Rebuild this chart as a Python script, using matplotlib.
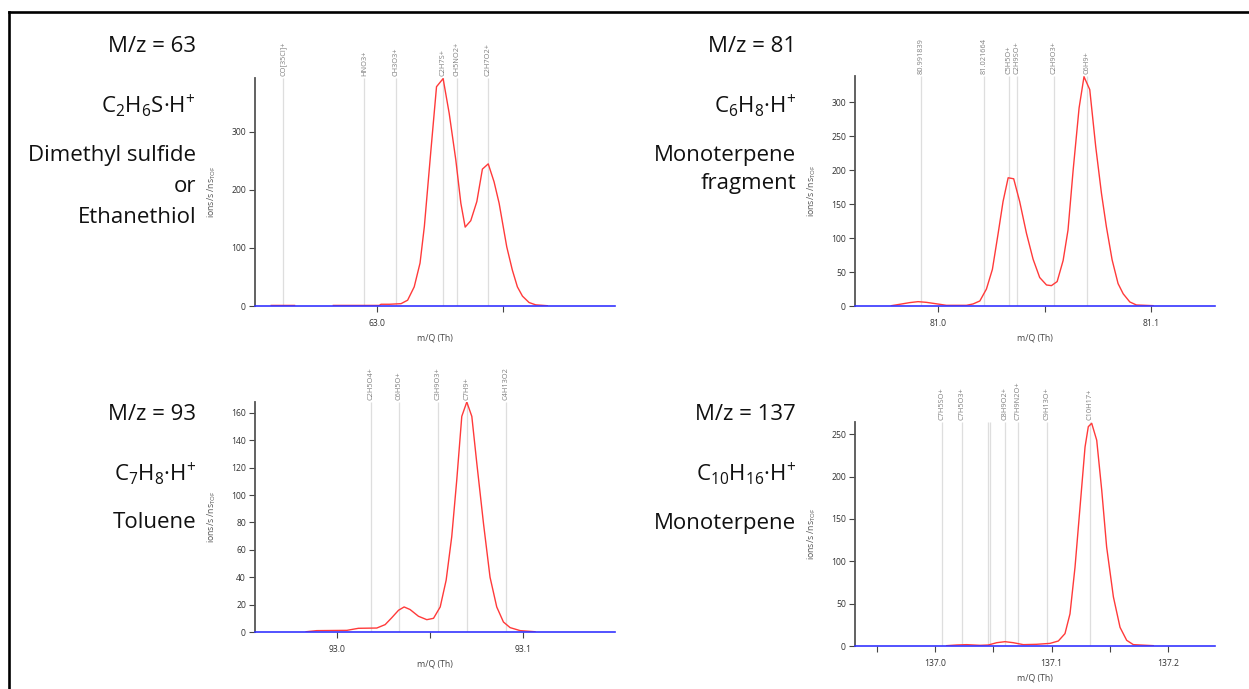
import numpy as np
import matplotlib.pyplot as plt
from matplotlib.lines import Line2D

plt.rcParams['font.family'] = ['Open Sans', 'DejaVu Sans']
plt.rcParams['mathtext.fontset'] = 'custom'
plt.rcParams['mathtext.rm'] = 'Open Sans'
plt.rcParams['mathtext.it'] = 'Open Sans:italic'

# ---- m/z 63 ----
mz63_x = [62.9584, 62.9630, 62.9676, np.nan, 62.9829, 63.0010, 63.0017, 63.0050, 63.0096,
          63.0122, 63.0148, 63.0171, 63.0188, 63.0214, 63.0236, 63.0262, 63.0286,
          63.0312, 63.0332, 63.0349, 63.0371, 63.0395, 63.0417, 63.0440, 63.0463,
          63.0483, 63.0513, 63.0535, 63.0555, 63.0575, 63.0601, 63.0627, 63.0673]
mz63_y = [1, 1, 1, np.nan, 1, 1, 3, 3, 4,
          10, 33, 74, 137, 269, 378, 392, 332,
          252, 177, 136, 147, 180, 236, 245, 214,
          177, 102, 62, 33, 17, 6, 2, 0.5]
mz63_peaks = [62.9632, 62.9951, 63.0077, 63.0263, 63.0315, 63.0441]
mz63_names = ['CO[35Cl]+', 'HNO3+', 'CH3O3+', 'C2H7S+', 'CH5NO2+', 'C2H7O2+']

# ---- m/z 81 ----
mz81_x = [80.9781, 80.9820, 80.9867, 80.9906, 80.9945, 81.0008, 81.0039, 81.0133,
          81.0164, 81.0196, 81.0227, 81.0255, 81.0282, 81.0305, 81.0329, 81.0355,
          81.0383, 81.0415, 81.0446, 81.0477, 81.0509, 81.0532, 81.0559, 81.0587,
          81.0610, 81.0634, 81.0662, 81.0685, 81.0712, 81.0740, 81.0767, 81.0790,
          81.0817, 81.0845, 81.0869, 81.0900, 81.0931, 81.1009]
mz81_y = [0.5, 2.5, 5, 6.4, 5.4, 2.5, 1, 1,
          3, 7.4, 25, 54, 107, 154, 189, 187.5,
          154, 107, 69, 42, 31, 30, 36, 67,
          112, 200, 292, 338, 319, 235, 166, 117,
          68, 33, 18, 6, 1.5, 0.5]
mz81_peaks = [80.991839, 81.021664, 81.0335, 81.0369, 81.0546, 81.0699]
mz81_names = ['80.991839', '81.021664', 'C5H5O+', 'C2H9SO+', 'C2H9O3+', 'C6H9+']

# ---- m/z 93 ----
mz93_x = [92.9835, 92.9892, 93.0054, 93.0116, 93.0215, 93.0260, 93.0296, 93.0332,
          93.0362, 93.0394, 93.0439, 93.0484, 93.0520, 93.0556, 93.0588, 93.0618,
          93.0645, 93.0672, 93.0699, 93.0726, 93.0753, 93.0789, 93.0824, 93.0860,
          93.0896, 93.0932, 93.0986, 93.1066]
mz93_y = [0.2, 1, 1.2, 2.7, 2.9, 5.4, 10.5, 15.9,
          18.3, 16.4, 11.5, 9, 10, 18.3, 37.9, 69.6,
          111, 157.5, 168, 157.5, 123, 79, 40, 18.3,
          7.3, 3.2, 1, 0.2]
mz93_peaks = [93.0182, 93.0335, 93.0546, 93.0699, 93.0910]
mz93_names = ['C2H5O4+', 'C6H5O+', 'C3H9O3+', 'C7H9+', 'C4H13O2']

# ---- m/z 137 ----
mz137_x = [137.0100, 137.0186, 137.0271, 137.0386, 137.0457, 137.0529, 137.0600,
           137.0671, 137.0757, 137.0871, 137.0986, 137.1057, 137.1114, 137.1157,
           137.1200, 137.1243, 137.1286, 137.1314, 137.1343, 137.1386, 137.1429,
           137.1471, 137.1529, 137.1586, 137.1643, 137.1700, 137.1871]
mz137_y = [0.4, 1.2, 1.6, 0.8, 1.2, 3.9, 5.1,
           3.9, 1.6, 2, 3.1, 5.9, 14.6, 38,
           93, 164, 235, 259, 263, 243, 184,
           117, 58, 22, 6.7, 1.6, 0.4]
mz137_peaks = [137.0056, 137.0233, 137.0452, 137.0474, 137.0597, 137.0709, 137.0961, 137.1325]
mz137_names = ['C7H5SO+', 'C7H5O3+', '', '', 'C8H9O2+', 'C7H9N2O+', 'C9H13O+', 'C10H17+']

# side annotations: (mass label, formula, compound lines)
titles = ['M/z = 63', 'M/z = 81', 'M/z = 93', 'M/z = 137']
formulas = [r'C$_2$H$_6$S·H$^{+}$', r'C$_6$H$_8$·H$^{+}$',
            r'C$_7$H$_8$·H$^{+}$', r'C$_{10}$H$_{16}$·H$^{+}$']
compounds = [['Dimethyl sulfide', 'or', 'Ethanethiol'],
             ['Monoterpene', 'fragment'],
             ['Toluene'],
             ['Monoterpene']]

W, H = 1249, 689
fig = plt.figure(figsize=(W / 100, H / 100), dpi=100)


def px_axes(left, top, right, bottom):
    return fig.add_axes([left / W, 1 - bottom / H, (right - left) / W, (bottom - top) / H])


def draw_panel(ax, x, y, peaks, names, xlim, ytop, yticks, xticks):
    ax.vlines(peaks, 0, ytop, color='#dedede', lw=0.9, zorder=1)
    for p, n in zip(peaks, names):
        if n:
            ax.annotate(n, (p, ytop), xytext=(0, 1.5), textcoords='offset points',
                        rotation=90, ha='center', va='bottom', fontsize=5.3,
                        color='#808080', annotation_clip=False)
    ax.plot(x, y, color='#ff3a3a', lw=1.0, zorder=3)
    ax.set_xlim(*xlim)
    ax.set_ylim(0, ytop)
    ax.set_yticks(yticks)
    ax.set_xticks(xticks)
    ax.set_xticklabels(['%.1f' % t if abs(round(t * 10) - t * 10) < 1e-6 else '' for t in xticks])
    for s in ['top', 'right']:
        ax.spines[s].set_visible(False)
    ax.spines['left'].set_color('#555555')
    ax.spines['left'].set_linewidth(1.3)
    ax.spines['bottom'].set_color('#3535ff')
    ax.spines['bottom'].set_linewidth(1.2)
    ax.spines['bottom'].set_zorder(4)
    ax.tick_params(axis='both', direction='out', length=4, width=0.8, color='#444444',
                   labelsize=6.2, labelcolor='#333333')
    ax.tick_params(axis='x', pad=5)
    ax.tick_params(axis='y', pad=2.5)
    ax.set_xlabel('m/Q (Th)', fontsize=6.3, color='#444444')
    ax.set_ylabel(r'ions/s /ns$_{\rm TOF}$', fontsize=6.3, color='#555555')
    w = ax.get_position().width * W
    h = ax.get_position().height * H
    ax.xaxis.set_label_coords(0.5, -27 / h)
    ax.yaxis.set_label_coords(-37 / w, 0.5)


ax1 = px_axes(255, 78, 615, 306)
draw_panel(ax1, mz63_x, mz63_y, mz63_peaks, mz63_names, (62.952, 63.094), 393,
           [0, 100, 200, 300], [63.0, 63.05])
ax2 = px_axes(855, 76, 1215, 306)
draw_panel(ax2, mz81_x, mz81_y, mz81_peaks, mz81_names, (80.961, 81.130), 339,
           [0, 50, 100, 150, 200, 250, 300], [81.0, 81.05, 81.1])
ax3 = px_axes(255, 402, 615, 632)
draw_panel(ax3, mz93_x, mz93_y, mz93_peaks, mz93_names, (92.956, 93.1496), 168,
           list(range(0, 161, 20)), [93.0, 93.05, 93.1])
ax4 = px_axes(855, 422, 1215, 646)
draw_panel(ax4, mz137_x, mz137_y, mz137_peaks, mz137_names, (136.9314, 137.24), 264.5,
           [0, 50, 100, 150, 200, 250], [136.95, 137.0, 137.05, 137.1, 137.15, 137.2])

# side text blocks
text_right = [196, 796, 196, 796]
text_top = [47, 47, 415, 415]
line_gap = [31, 28, 28, 28]
for i in range(4):
    xr = text_right[i] / W
    y0 = text_top[i]
    fig.text(xr, 1 - y0 / H, titles[i], ha='right', va='center', fontsize=16, color='#111111')
    fig.text(xr, 1 - (y0 + 59) / H, formulas[i], ha='right', va='center', fontsize=16,
             color='#111111')
    for j, line in enumerate(compounds[i]):
        fig.text(xr, 1 - (y0 + 108 + line_gap[i] * j) / H, line, ha='right', va='center',
                 fontsize=16, color='#111111')

# frame lines (left and top)
fig.add_artist(Line2D([8.5 / W, 8.5 / W], [0, 1 - 12 / H], color='black', lw=1.9,
                      transform=fig.transFigure))
fig.add_artist(Line2D([8.5 / W, 1], [1 - 12 / H, 1 - 12 / H], color='black', lw=1.9,
                      transform=fig.transFigure))

fig.savefig('out.png', dpi=100)
